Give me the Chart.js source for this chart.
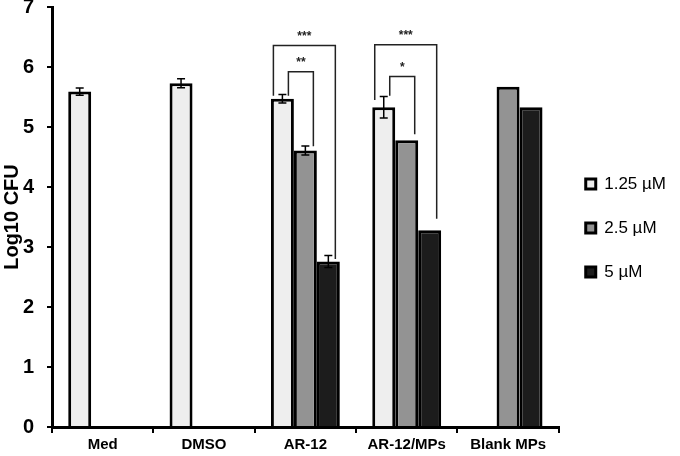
<!DOCTYPE html>
<html>
<head>
<meta charset="utf-8">
<script src="https://cdn.jsdelivr.net/npm/chart.js@4.4.1/dist/chart.umd.min.js"></script>
<style>
html,body{margin:0;padding:0;background:#fff;}
#wrap{width:680px;height:456px;}
</style>
</head>
<body>
<div id="wrap"><canvas id="c" width="680" height="456"></canvas></div>
<script>
const categories = ['Med', 'DMSO', 'AR-12', 'AR-12/MPs', 'Blank MPs'];
const seriesNames = ['1.25 \u00b5M', '2.5 \u00b5M', '5 \u00b5M'];
const values125 = [5.59, 5.73, 5.47, 5.33, null];
const values25  = [null, null, 4.61, 4.78, 5.67];
const values5   = [null, null, 2.76, 3.28, 5.33];
const err125 = [0.06, 0.075, 0.07, 0.18, null];
const err25  = [null, null, 0.075, null, null];
const err5   = [null, null, 0.10, null, null];
const yTicks = [0, 1, 2, 3, 4, 5, 6, 7];
// significance brackets: category, from series, to series, label, top level, left leg end, right leg end
const brCategory = [2, 2, 3, 3];
const brFrom     = [0, 0, 0, 0];
const brTo       = [2, 1, 2, 1];
const brLabel    = ['***', '**', '***', '*'];
const brTop      = [6.36, 5.92, 6.37, 5.84];
const brLeftEnd  = [5.52, 5.52, 5.45, 5.52];
const brRightEnd = [2.80, 4.68, 3.47, 4.88];

const fillColors = ['#eeeeee', '#939393', '#1c1c1c'];
const FONT = "'Liberation Sans', Arial, sans-serif";
const NARROW = "'Liberation Sans Narrow', 'Liberation Sans', Arial, sans-serif";

const errorBars = {
  id: 'errorBars',
  afterDatasetsDraw(chart) {
    const ctx = chart.ctx;
    const y = chart.scales.y;
    const errs = [err125, err25, err5];
    const vals = [values125, values25, values5];
    ctx.save();
    ctx.strokeStyle = '#000';
    ctx.lineWidth = 1.5;
    errs.forEach((arr, d) => {
      const meta = chart.getDatasetMeta(d);
      arr.forEach((e, i) => {
        if (e == null || vals[d][i] == null) return;
        const bar = meta.data[i];
        const x = bar.x;
        const y1 = y.getPixelForValue(vals[d][i] + e);
        const y2 = y.getPixelForValue(vals[d][i] - e);
        ctx.beginPath();
        ctx.moveTo(x, y1); ctx.lineTo(x, y2);
        ctx.moveTo(x - 4, y1); ctx.lineTo(x + 4, y1);
        ctx.moveTo(x - 4, y2); ctx.lineTo(x + 4, y2);
        ctx.stroke();
      });
    });
    // brackets
    ctx.strokeStyle = '#222';
    ctx.lineWidth = 1.5;
    ctx.fillStyle = '#222';
    ctx.font = 'bold 12px ' + FONT;
    ctx.textAlign = 'center';
    ctx.textBaseline = 'middle';
    brCategory.forEach((c, k) => {
      const a = chart.getDatasetMeta(brFrom[k]).data[c];
      const b = chart.getDatasetMeta(brTo[k]).data[c];
      const inner = brLabel[k].length < 3;
      const xl = a.x + (inner ? 6 : -9);
      const xr = b.x + (inner ? 8 : 7);
      const yt = y.getPixelForValue(brTop[k]);
      ctx.beginPath();
      ctx.moveTo(xl, y.getPixelForValue(brLeftEnd[k]));
      ctx.lineTo(xl, yt);
      ctx.lineTo(xr, yt);
      ctx.lineTo(xr, y.getPixelForValue(brRightEnd[k]));
      ctx.stroke();
      ctx.fillText(brLabel[k], (xl + xr) / 2, yt - 9);
    });
    ctx.restore();
  }
};

const datasets = [values125, values25, values5].map((v, i) => ({
  label: seriesNames[i],
  data: v,
  backgroundColor: fillColors[i],
  borderColor: '#000',
  borderWidth: 3,
  borderSkipped: 'start',
  categoryPercentage: 0.68,
  barPercentage: 1.0
}));

new Chart(document.getElementById('c'), {
  type: 'bar',
  data: { labels: categories, datasets },
  plugins: [errorBars],
  options: {
    responsive: false,
    animation: false,
    devicePixelRatio: 1,
    layout: { padding: { top: 0, right: 4, left: 0, bottom: 0 } },
    plugins: {
      tooltip: { enabled: false },
      legend: {
        position: 'right',
        labels: {
          boxWidth: 10,
          boxHeight: 10,
          padding: 27,
          color: '#000',
          font: { family: FONT, size: 17 }
        }
      }
    },
    scales: {
      x: {
        grid: { display: true, drawOnChartArea: false, drawTicks: true, tickLength: 6, color: '#000', lineWidth: 2, offset: true },
        border: { display: true, color: '#000', width: 3 },
        ticks: { color: '#000', font: { family: NARROW, size: 15, weight: 'bold' }, padding: 3, maxRotation: 0 },
        afterFit(s) { s.height = 29; }
      },
      y: {
        min: 0, max: 7,
        afterBuildTicks(s) { s.ticks = yTicks.map(v => ({ value: v })); },
        grid: { display: true, drawOnChartArea: false, drawTicks: true, tickLength: 5, color: '#000', lineWidth: 2 },
        border: { display: true, color: '#000', width: 3 },
        ticks: { color: '#000', font: { family: NARROW, size: 20, weight: 'bold' }, padding: 13 },
        title: { display: true, text: 'Log10 CFU', color: '#000', font: { family: FONT, size: 20, weight: 'bold' }, padding: 0 },
        afterFit(s) { s.width = 52; s.paddingTop = 7; }
      }
    }
  }
});
</script>
</body>
</html>
